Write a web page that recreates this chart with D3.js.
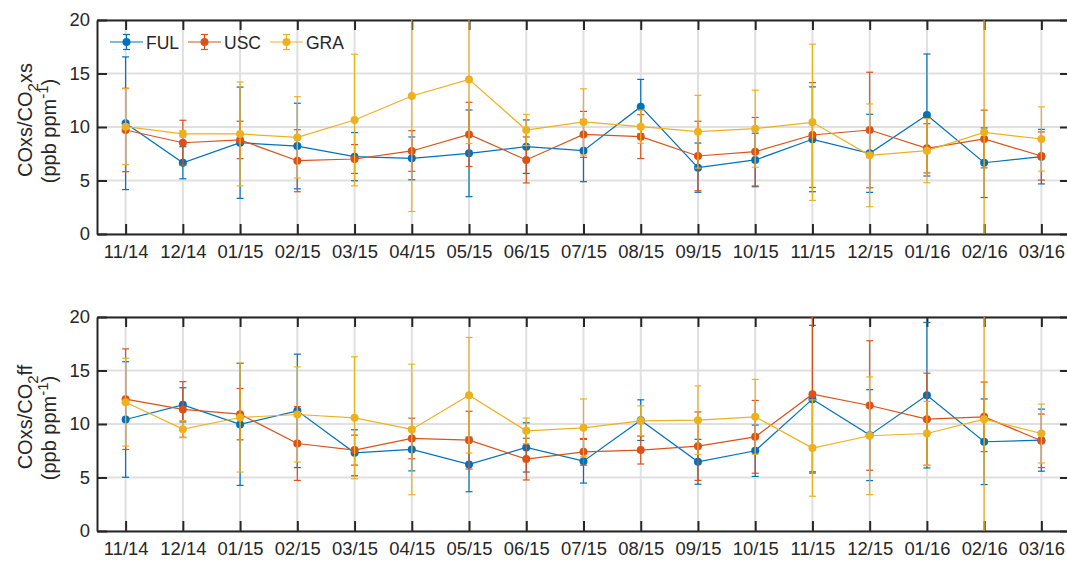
<!DOCTYPE html>
<html>
<head>
<meta charset="utf-8">
<script src="https://cdn.jsdelivr.net/npm/d3@7"></script>
<style>
  body { margin: 0; background: #fff; }
  svg { display: block; font-family: "Liberation Sans", Arial, sans-serif; }
</style>
</head>
<body>
<div id="chart"></div>
<script>
var months = ["11/14", "12/14", "01/15", "02/15", "03/15", "04/15", "05/15", "06/15", "07/15",
              "08/15", "09/15", "10/15", "11/15", "12/15", "01/16", "02/16", "03/16"];
var yTicks = [0, 5, 10, 15, 20];
var names = ["FUL", "USC", "GRA"];
var colors = ["#0072BD", "#D95319", "#EDB120"];

// top panel: COxs/CO2xs
var xsFUL    = [10.35, 6.66, 8.53, 8.22, 7.23, 7.07, 7.54, 8.16, 7.79, 11.9, 6.2, 6.92, 8.85, 7.54, 11.12, 6.66, 7.23];
var xsFULerr = [6.2, 1.5, 5.2, 4.0, 2.25, 2.0, 4.05, 2.5, 2.9, 2.55, 2.3, 2.5, 4.9, 3.65, 5.7, 3.25, 2.55];
var xsUSC    = [9.72, 8.53, 8.79, 6.85, 7.01, 7.76, 9.31, 6.92, 9.31, 9.1, 7.29, 7.69, 9.25, 9.72, 8.01, 8.88, 7.29];
var xsUSCerr = [3.9, 2.1, 1.75, 2.9, 1.35, 1.9, 3.0, 2.15, 2.15, 2.05, 3.25, 3.2, 4.9, 5.4, 2.3, 2.7, 2.25];
var xsGRA    = [10.03, 9.35, 9.35, 9.03, 10.65, 12.9, 14.45, 9.72, 10.47, 10.03, 9.56, 9.84, 10.44, 7.35, 7.79, 9.5, 8.88];
var xsGRAerr = [3.55, 0.3, 4.85, 3.8, 6.15, 10.8, 6.0, 1.45, 3.1, 1.55, 3.4, 3.6, 7.3, 4.8, 3.0, 11, 3.0];

// bottom panel: COxs/CO2ff
var ffFUL    = [10.42, 11.79, 9.96, 11.23, 7.31, 7.62, 6.22, 7.81, 6.53, 10.36, 6.47, 7.5, 12.32, 8.96, 12.69, 8.34, 8.49];
var ffFULerr = [5.4, 1.6, 5.7, 5.3, 2.15, 2.0, 2.55, 2.3, 2.05, 1.9, 2.1, 2.4, 6.9, 4.25, 6.8, 4.0, 2.9];
var ffUSC    = [12.32, 11.36, 10.92, 8.18, 7.56, 8.65, 8.49, 6.72, 7.4, 7.56, 7.93, 8.8, 12.79, 11.73, 10.45, 10.67, 8.43];
var ffUSCerr = [4.7, 2.6, 2.4, 3.45, 1.4, 1.9, 2.7, 1.95, 1.25, 1.3, 3.2, 3.4, 7.25, 6.05, 4.3, 3.25, 2.5];
var ffGRA    = [12.04, 9.52, 10.61, 10.89, 10.58, 9.49, 12.69, 9.36, 9.64, 10.3, 10.36, 10.67, 7.75, 8.9, 9.11, 10.45, 9.11];
var ffGRAerr = [4.1, 0.8, 5.1, 4.45, 5.7, 6.1, 5.4, 1.2, 2.7, 1.4, 3.2, 3.5, 4.5, 5.5, 3.0, 11, 2.75];

var width = 1067, height = 561;
var ink = "#262626";

var svg = d3.select("#chart").append("svg")
    .attr("width", width)
    .attr("height", height);

var x = d3.scaleLinear().domain([-0.5, months.length - 0.5]).range([97, 1070]);

function drawPanel(id, top, bottom, series, errs, sub) {
    var y = d3.scaleLinear().domain([0, 20]).range([bottom, top]);
    var g = svg.append("g");

    g.append("clipPath").attr("id", id)
        .append("rect")
        .attr("x", x.range()[0]).attr("y", top)
        .attr("width", x.range()[1] - x.range()[0]).attr("height", bottom - top);

    // grid
    g.selectAll("line.vg").data(months).enter().append("line")
        .attr("x1", function(d, i) { return x(i); }).attr("x2", function(d, i) { return x(i); })
        .attr("y1", top).attr("y2", bottom)
        .attr("stroke", "#e0e0e0").attr("stroke-width", 2);
    g.selectAll("line.hg").data(yTicks).enter().append("line")
        .attr("x1", x.range()[0]).attr("x2", x.range()[1])
        .attr("y1", function(d) { return y(d); }).attr("y2", function(d) { return y(d); })
        .attr("stroke", "#e0e0e0").attr("stroke-width", 2);

    // axes (inward ticks)
    var xb = d3.axisBottom(x).tickValues(d3.range(months.length)).tickSizeInner(-10).tickSizeOuter(0)
        .tickFormat(function(i) { return months[i]; });
    var xt = d3.axisTop(x).tickValues(d3.range(months.length)).tickSizeInner(-10).tickSizeOuter(0)
        .tickFormat("");
    var yl = d3.axisLeft(y).tickValues(yTicks).tickSizeInner(-10).tickSizeOuter(0);
    var yr = d3.axisRight(y).tickValues(yTicks).tickSizeInner(-10).tickSizeOuter(0).tickFormat("");

    var ax = [
        g.append("g").attr("transform", "translate(0," + bottom + ")").call(xb),
        g.append("g").attr("transform", "translate(0," + top + ")").call(xt),
        g.append("g").attr("transform", "translate(" + x.range()[0] + ",0)").call(yl),
        g.append("g").attr("transform", "translate(" + x.range()[1] + ",0)").call(yr)
    ];
    ax.forEach(function(a) {
        a.select(".domain").attr("stroke", ink).attr("stroke-width", 2);
        a.selectAll(".tick line").attr("stroke", ink).attr("stroke-width", 2);
        a.selectAll(".tick text").attr("fill", ink).attr("font-size", 18.4)
            .attr("font-family", "Liberation Sans, Arial, sans-serif");
    });
    ax[0].selectAll(".tick text").attr("y", 11);
    ax[2].selectAll(".tick text").attr("x", -7);

    // data
    var plot = g.append("g").attr("clip-path", "url(#" + id + ")");
    series.forEach(function(vals, k) {
        var col = colors[k];
        var s = plot.append("g");
        var pts = vals.map(function(v, i) { return { i: i, v: v, e: errs[k][i] }; });

        s.selectAll("line.eb").data(pts).enter().append("line")
            .attr("x1", function(d) { return x(d.i); }).attr("x2", function(d) { return x(d.i); })
            .attr("y1", function(d) { return y(d.v - d.e); }).attr("y2", function(d) { return y(d.v + d.e); })
            .attr("stroke", col).attr("stroke-width", 1.2);
        [-1, 1].forEach(function(sg) {
            s.selectAll("line.cap" + sg).data(pts).enter().append("line")
                .attr("x1", function(d) { return x(d.i) - 3.5; }).attr("x2", function(d) { return x(d.i) + 3.5; })
                .attr("y1", function(d) { return y(d.v + sg * d.e); })
                .attr("y2", function(d) { return y(d.v + sg * d.e); })
                .attr("stroke", col).attr("stroke-width", 1.2);
        });
        s.append("path").datum(pts)
            .attr("d", d3.line().x(function(d) { return x(d.i); }).y(function(d) { return y(d.v); }))
            .attr("fill", "none").attr("stroke", col).attr("stroke-width", 1.2);
        s.selectAll("circle").data(pts).enter().append("circle")
            .attr("cx", function(d) { return x(d.i); }).attr("cy", function(d) { return y(d.v); })
            .attr("r", 4).attr("fill", col);
    });

    // y label
    var mid = (top + bottom) / 2;
    var l1 = g.append("text").attr("transform", "translate(32," + (mid - 7) + ") rotate(-90)")
        .attr("text-anchor", "middle").attr("font-size", 20).attr("fill", ink);
    l1.append("tspan").text("COxs/CO");
    l1.append("tspan").attr("dy", 6).attr("font-size", 15).text("2");
    l1.append("tspan").attr("dy", -6).text(sub);
    var l2 = g.append("text").attr("transform", "translate(56," + (mid + 4) + ") rotate(-90)")
        .attr("text-anchor", "middle").attr("font-size", 20).attr("fill", ink);
    l2.append("tspan").text("(ppb ppm");
    l2.append("tspan").attr("dy", -8).attr("font-size", 15).text("-1");
    l2.append("tspan").attr("dy", 8).text(")");
}

drawPanel("clipTop", 20, 234, [xsFUL, xsUSC, xsGRA], [xsFULerr, xsUSCerr, xsGRAerr], "xs");
drawPanel("clipBot", 317, 531, [ffFUL, ffUSC, ffGRA], [ffFULerr, ffUSCerr, ffGRAerr], "ff");

// legend (no box)
var legX = [110, 188, 270];
var leg = svg.append("g");
names.forEach(function(n, k) {
    var lg = leg.append("g").attr("transform", "translate(" + legX[k] + ",42)");
    lg.append("line").attr("x1", 0).attr("x2", 33).attr("y1", 0).attr("y2", 0)
        .attr("stroke", colors[k]).attr("stroke-width", 1.2);
    lg.append("line").attr("x1", 16.5).attr("x2", 16.5).attr("y1", -7.5).attr("y2", 7.5)
        .attr("stroke", colors[k]).attr("stroke-width", 1.2);
    [-7.5, 7.5].forEach(function(c) {
        lg.append("line").attr("x1", 13).attr("x2", 20).attr("y1", c).attr("y2", c)
            .attr("stroke", colors[k]).attr("stroke-width", 1.2);
    });
    lg.append("circle").attr("cx", 16.5).attr("cy", 0).attr("r", 4).attr("fill", colors[k]);
    lg.append("text").attr("x", 36).attr("y", 6.5).attr("font-size", 17.5).attr("fill", ink).text(n);
});
</script>
</body>
</html>
